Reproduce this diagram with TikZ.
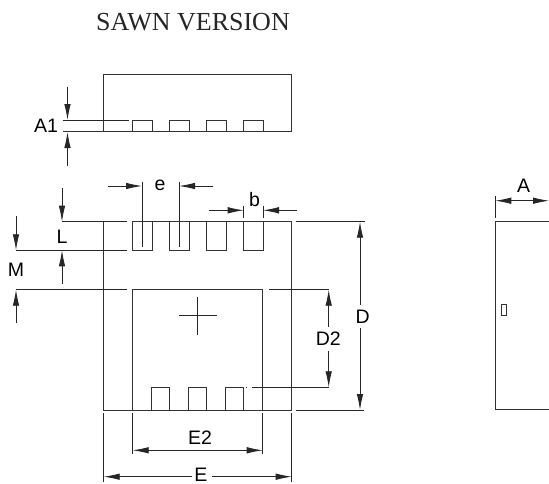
\documentclass[tikz,border=0pt]{standalone}
\usepackage{fontspec}
\setmainfont{Liberation Sans}
\newfontfamily\titlefont{Liberation Serif}
\usetikzlibrary{arrows.meta}
\tikzset{
  part/.style={line width=1pt,draw=black!80},
  dimline/.style={line width=0.85pt,draw=black!85},
  dimarrow/.style={dimline,-{Latex[length=16pt,width=6.5pt]}},
  dimboth/.style={dimline,{Latex[length=16pt,width=6.5pt]}-{Latex[length=16pt,width=6.5pt]}},
  dimtext/.style={font=\fontsize{19.5}{19.5}\selectfont,inner sep=0pt,text=black},
  titletext/.style={font=\titlefont\fontsize{26}{26}\selectfont,inner sep=0pt,text=black!85}
}
\begin{document}
\begin{tikzpicture}[x=1pt,y=-1pt]
\useasboundingbox (0,0) rectangle (549,483);
\fill[white] (0,0) rectangle (549,483);
\node[titletext] (title) at (193,22) {SAWN VERSION};
% top view
\draw[part] (103.7,131.7) -- (103.7,74.7) -- (291.7,74.7) -- (291.7,131.7) -- (63,131.7);
\draw[dimline] (63,120.3) -- (128.7,120.3);
\foreach \x in {132.3,169.3,206.3,243.3}
  \draw[part] (\x,131.7) rectangle (\x+19.7,120.3);
\draw[dimarrow] (67.5,86.7) -- (67.5,120);
\draw[dimarrow] (67.5,166) -- (67.5,132);
\node[dimtext] (a1) at (46,125.5) {A1};
% main view
\draw[part] (103.7,221.7) -- (103.7,410) -- (291.7,410) -- (291.7,221.7) -- (132.3,221.7);
\draw[dimline] (62,221.7) -- (126.7,221.7);
\draw[dimline] (295.7,221.7) -- (365,221.7);
\draw[dimline] (295.7,410) -- (364.3,410);
\foreach \x in {132.3,169.3,206.3,243.3}
  \draw[part] (\x,221.7) rectangle (\x+19.7,250.3);
\draw[dimline] (16,250.3) -- (127,250.3);
\draw[dimline] (16,289.7) -- (127,289.7);
\draw[part] (132.7,410) -- (132.7,289.7) -- (262.7,289.7) -- (262.7,410);
\draw[dimline] (269,289.7) -- (329.3,289.7);
\draw[dimline] (179,315.7) -- (216.7,315.7);
\draw[dimline] (197.7,297.3) -- (197.7,334.7);
\foreach \x in {151.7,188.7,225.7}
  \draw[part] (\x,410) -- (\x,387.3) -- (\x+18,387.3) -- (\x+18,410);
\draw[dimline] (246,387.3) -- (247,387.3);
\draw[dimline] (251.7,387.3) -- (329.3,387.3);
% e
\draw[dimline] (142,181.7) -- (142,246.7);
\draw[dimline] (179,181.7) -- (179,246.7);
\draw[dimarrow] (108.3,186) -- (142,186);
\draw[dimarrow] (213.3,186) -- (179,186);
\node[dimtext] (e) at (160,185) {e};
% b
\draw[dimline] (243.7,205.7) -- (243.7,217.7);
\draw[dimline] (263,205.7) -- (263,217.7);
\draw[dimarrow] (209.3,210.3) -- (243.7,210.3);
\draw[dimarrow] (296.7,210.3) -- (263,210.3);
\node[dimtext] (b) at (254.5,199.5) {b};
% L
\draw[dimarrow] (62,187.7) -- (62,221.7);
\draw[dimarrow] (62,284.3) -- (62,250.3);
\node[dimtext] (L) at (62,236.7) {L};
% M
\draw[dimarrow] (16,216) -- (16,250.3);
\draw[dimarrow] (16,323) -- (16,289.7);
\node[dimtext] (M) at (16,270) {M};
% D2
\draw[dimarrow] (328.7,326.7) -- (328.7,289.7);
\draw[dimarrow] (328.7,350.7) -- (328.7,387.3);
\node[dimtext] (D2) at (328.3,339) {D2};
% D
\draw[dimarrow] (360,305) -- (360,221.7);
\draw[dimarrow] (360,328) -- (360,410);
\node[dimtext] (D) at (362.7,317) {D};
% bottom extension lines
\draw[dimline] (103.7,413.3) -- (103.7,481.7);
\draw[dimline] (291.7,413.3) -- (291.7,481.7);
\draw[dimline] (132.7,413.3) -- (132.7,454.3);
\draw[dimline] (262.7,413.3) -- (262.7,454.3);
\draw[dimboth] (132.7,450.3) -- (262.7,450.3);
\node[dimtext] (E2) at (200,438) {E2};
\draw[dimarrow] (191.7,476.7) -- (103.7,476.7);
\draw[dimarrow] (211.7,476.7) -- (291.7,476.7);
\node[dimtext] (E) at (201,474.5) {E};
% side view
\draw[part] (549,221.3) -- (495.3,221.3) -- (495.3,409.7) -- (549,409.7);
\draw[dimline] (495.3,196) -- (495.3,217.7);
\draw[dimboth] (495.3,200.7) -- (549,200.7);
\node[dimtext] (A) at (523.7,186) {A};
\draw[part,line width=0.75pt] (501,304.3) rectangle (506.7,315.7);
\end{tikzpicture}
\end{document}
